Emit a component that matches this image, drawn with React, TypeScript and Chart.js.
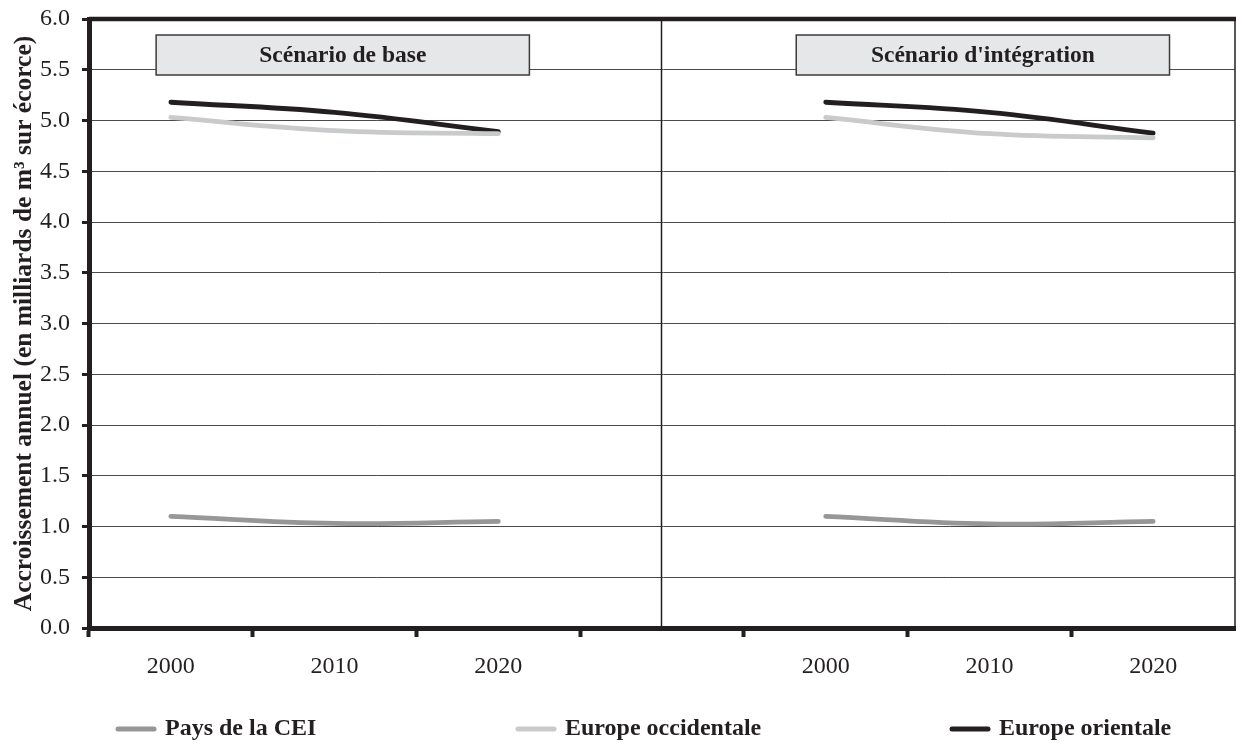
import React, { useEffect, useRef } from 'react';
import { Chart, registerables } from 'chart.js';

Chart.register(...registerables);

// Category slots: three years per scenario, with an empty slot between the two panels
const years = ['2000', '2010', '2020', '', '2000', '2010', '2020'];
const seriesNames = ['Pays de la CEI', 'Europe occidentale', 'Europe orientale'];
const paysCEI = [1.1, 1.03, 1.05, null, 1.1, 1.025, 1.05];
const europeOccidentale = [5.03, 4.9, 4.87, null, 5.03, 4.87, 4.83];
const europeOrientale = [5.18, 5.08, 4.89, null, 5.18, 5.08, 4.875];
const panelTitles = ['Scénario de base', "Scénario d'intégration"];
const yAxisTitle = 'Accroissement annuel (en milliards de m³ sur écorce)';

const SERIF = '"Liberation Serif", "Times New Roman", Times, serif';
const INK = '#231f20';
const seriesColors = ['#979797', '#c9cacc', INK];

// Frame, panel divider, scenario headings and the bottom legend
const decorations = {
  id: 'decorations',
  afterDatasetsDraw(chart: any) {
    const { ctx, chartArea } = chart;
    const x = chart.scales.x;
    ctx.save();

    // top and right frame edges
    ctx.strokeStyle = INK;
    ctx.lineWidth = 4.5;
    ctx.beginPath();
    ctx.moveTo(chartArea.left, chartArea.top);
    ctx.lineTo(chartArea.right + 2, chartArea.top);
    ctx.stroke();
    ctx.lineWidth = 1.5;
    ctx.beginPath();
    ctx.moveTo(chartArea.right, chartArea.top);
    ctx.lineTo(chartArea.right, chartArea.bottom);
    ctx.stroke();

    // divider between the two scenarios (centre of the empty slot)
    const xd = Math.round(x.getPixelForValue(3)) - 0.5;
    ctx.lineWidth = 1.5;
    ctx.beginPath();
    ctx.moveTo(xd, chartArea.top);
    ctx.lineTo(xd, chartArea.bottom);
    ctx.stroke();

    // scenario heading boxes
    const spans = [
      [-0.09, 2.19],
      [3.82, 6.1],
    ];
    const top = chartArea.top + 16;
    const h = 40;
    panelTitles.forEach((t, i) => {
      const x0 = x.getPixelForValue(spans[i][0]);
      const x1 = x.getPixelForValue(spans[i][1]);
      ctx.fillStyle = '#e6e7e8';
      ctx.fillRect(x0, top, x1 - x0, h);
      ctx.strokeStyle = '#3c3c3c';
      ctx.lineWidth = 1.5;
      ctx.strokeRect(x0, top, x1 - x0, h);
      ctx.fillStyle = INK;
      ctx.font = `bold 23.5px ${SERIF}`;
      ctx.textAlign = 'center';
      ctx.textBaseline = 'middle';
      ctx.fillText(t, (x0 + x1) / 2, top + h / 2 + 1);
    });
    ctx.restore();
  },
  afterDraw(chart: any) {
    const { ctx } = chart;
    const starts = [116, 516, 950];
    const y = 729;
    ctx.save();
    chart.data.datasets.forEach((ds: any, i: number) => {
      ctx.strokeStyle = ds.borderColor;
      ctx.lineWidth = 5;
      ctx.lineCap = 'round';
      ctx.beginPath();
      ctx.moveTo(starts[i] + 2, y);
      ctx.lineTo(starts[i] + 38, y);
      ctx.stroke();
      ctx.fillStyle = INK;
      ctx.font = `bold 24px ${SERIF}`;
      ctx.textAlign = 'left';
      ctx.textBaseline = 'middle';
      ctx.fillText(ds.label, starts[i] + 49, y);
    });
    ctx.restore();
  },
};

export default function App() {
  const ref = useRef<HTMLCanvasElement>(null);

  useEffect(() => {
    if (!ref.current) return;
    const series = [paysCEI, europeOccidentale, europeOrientale];
    const chart = new Chart(ref.current, {
      type: 'line',
      data: {
        labels: years,
        datasets: series.map((data, i) => ({
          label: seriesNames[i],
          data,
          borderColor: seriesColors[i],
          backgroundColor: seriesColors[i],
          borderWidth: 4.8,
          borderCapStyle: 'round',
          pointRadius: 0,
          pointHoverRadius: 0,
          tension: 0.4,
          spanGaps: false,
          fill: false,
        })),
      },
      options: {
        responsive: false,
        animation: false,
        devicePixelRatio: 1,
        layout: { padding: { top: 19, right: 1, bottom: 59, left: 0 } },
        plugins: {
          legend: { display: false },
          tooltip: { enabled: false },
        },
        scales: {
          x: {
            type: 'category',
            offset: true,
            grid: {
              offset: true,
              drawOnChartArea: false,
              drawTicks: true,
              tickLength: 9,
              tickWidth: 4,
              tickColor: (c: any) =>
                c.index === undefined || c.index >= years.length ? 'rgba(0,0,0,0)' : INK,
            },
            border: { display: true, color: INK, width: 5 },
            ticks: {
              color: INK,
              font: { family: SERIF, size: 24 },
              padding: 15,
              maxRotation: 0,
              autoSkip: false,
            },
            afterFit(scale: any) {
              scale.height = 60;
              scale.paddingLeft = 0;
              scale.paddingRight = 0;
            },
          },
          y: {
            min: 0,
            max: 6,
            grid: {
              color: '#4a4a4a',
              lineWidth: 1,
              drawTicks: true,
              tickLength: 7,
              tickWidth: 3,
              tickColor: INK,
            },
            border: { display: true, color: INK, width: 5 },
            ticks: {
              stepSize: 0.5,
              color: INK,
              font: { family: SERIF, size: 24 },
              padding: 12,
              callback: (v: any) => Number(v).toFixed(1),
            },
            title: {
              display: true,
              text: yAxisTitle,
              color: INK,
              font: { family: SERIF, size: 25.5, weight: 'bold' },
              padding: { top: 9, bottom: 0 },
            },
            afterFit(scale: any) {
              scale.width = 89;
              scale.paddingTop = 0;
              scale.paddingBottom = 0;
            },
          },
        },
      },
      plugins: [decorations],
    } as any);
    return () => chart.destroy();
  }, []);

  return (
    <div style={{ position: 'fixed', left: 0, top: 0, width: 1236, height: 747, background: '#fff', overflow: 'hidden' }}>
      <canvas ref={ref} width={1236} height={747} style={{ display: 'block' }} />
    </div>
  );
}
